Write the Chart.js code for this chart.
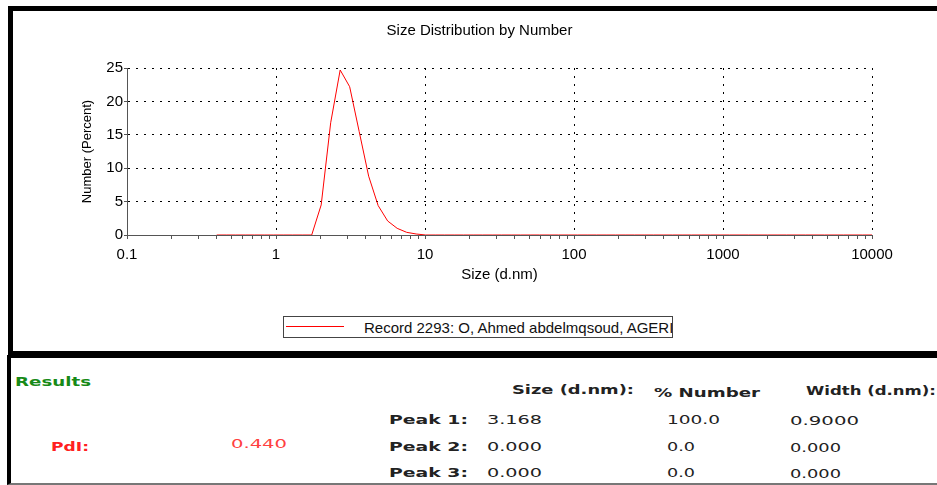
<!DOCTYPE html>
<html>
<head>
<meta charset="utf-8">
<script src="https://cdn.jsdelivr.net/npm/chart.js@4.4.1/dist/chart.umd.min.js"></script>
<style>
html, body { margin: 0; padding: 0; background: #fff; }
#page { position: relative; width: 937px; height: 485px; overflow: hidden; font-family: "Liberation Sans", Arial, sans-serif; }
#topBox { position: absolute; left: 8px; top: 6px; width: 929px; height: 350px; border-top: 5px solid #000; border-left: 5px solid #000; box-sizing: border-box; }
#sepBar { position: absolute; left: 8px; top: 351px; width: 929px; height: 7px; background: #000; }
#lowBox { position: absolute; left: 7px; top: 355px; width: 930px; height: 130px; border-left: 4px solid #000; border-bottom: 2px solid #777; box-sizing: border-box; }
#chartWrap { position: absolute; left: 22px; top: 0; width: 915px; height: 300px; }
#legendBox { position: absolute; left: 283px; top: 316px; width: 390px; height: 22px; border: 1px solid #444; box-sizing: border-box; background: #fff; overflow: hidden; }
#legendLine { position: absolute; left: 2px; top: 9px; width: 58px; height: 1px; background: #ff0000; }
#legendText { position: absolute; left: 80px; top: 2px; font-size: 15px; line-height: 17px; color: #111; white-space: nowrap; }
.fit { position: absolute; white-space: nowrap; font-family: "DejaVu Sans", sans-serif; font-size: 13px; line-height: 16px; transform-origin: left center; }
.b { font-weight: bold; }
</style>
</head>
<body>
<div id="page">
  <div id="topBox"></div>
  <div id="chartWrap"><canvas id="sizeChart" width="915" height="300"></canvas></div>
  <div id="legendBox"><div id="legendLine"></div><div id="legendText"></div></div>
  <div id="sepBar"></div>
  <div id="lowBox"></div>
  <div id="results"></div>
</div>
<script>
// size bins (d.nm)
var sizes = [0.4, 0.4632, 0.5365, 0.6213, 0.7195, 0.8332, 0.9649, 1.117, 1.294, 1.499,
  1.736, 2.010, 2.328, 2.696, 3.122, 3.615, 4.187, 4.849, 5.615, 6.503,
  7.531, 8.721, 10.10, 11.70, 13.54, 15.69, 18.17, 21.04, 24.36, 28.21,
  32.67, 37.84, 43.82, 50.75, 58.77, 68.06, 78.82, 91.28, 105.7, 122.4,
  141.8, 164.2, 190.1, 220.2, 255.0, 295.3, 342.0, 396.1, 458.7, 531.2,
  615.1, 712.4, 825.0, 955.4, 1106, 1281, 1484, 1718, 1990, 2305,
  2669, 3091, 3580, 4145, 4801, 5560, 6439, 7456, 8635, 10000];
// number distribution (percent)
var numberPct = [0, 0, 0, 0, 0, 0, 0, 0, 0, 0,
  0, 4.5, 16.8, 24.7, 22.2, 15.5, 8.8, 4.4, 2.1, 1.0,
  0.4, 0.15, 0, 0, 0, 0, 0, 0, 0, 0,
  0, 0, 0, 0, 0, 0, 0, 0, 0, 0,
  0, 0, 0, 0, 0, 0, 0, 0, 0, 0,
  0, 0, 0, 0, 0, 0, 0, 0, 0, 0,
  0, 0, 0, 0, 0, 0, 0, 0, 0, 0];
var seriesLabel = "Record 2293: O, Ahmed abdelmqsoud, AGERI";
var xMajorTicks = [0.1, 1, 10, 100, 1000, 10000];
var xTickLabels = ["0.1", "1", "10", "100", "1000", "10000"];
var yTickLabels = ["0", "5", "10", "15", "20", "25"];

// results table
var peakNames = ["Peak 1:", "Peak 2:", "Peak 3:"];
var peakSizes = ["3.168", "0.000", "0.000"];
var peakPercents = ["100.0", "0.0", "0.0"];
var peakWidths = ["0.9000", "0.000", "0.000"];
var pdiValue = "0.440";

var FONT = "'Liberation Sans', Arial, sans-serif";

function majorIndex(v) {
    for (var i = 0; i < xMajorTicks.length; i++) {
        if (Math.abs(Math.log10(v) - Math.log10(xMajorTicks[i])) < 1e-6) return i;
    }
    return -1;
}

var points = [];
for (var i = 0; i < sizes.length; i++) {
    points.push({ x: sizes[i], y: numberPct[i] });
}

var chart = new Chart(document.getElementById("sizeChart"), {
    type: "line",
    data: {
        datasets: [{
            label: seriesLabel,
            data: points,
            borderColor: "#ff0000",
            borderWidth: 1,
            pointRadius: 0,
            tension: 0,
            fill: false
        }]
    },
    options: {
        responsive: false,
        animation: false,
        devicePixelRatio: 1,
        layout: { padding: 0 },
        plugins: {
            legend: { display: false },
            tooltip: { enabled: false },
            title: {
                display: true,
                text: "Size Distribution by Number",
                color: "#000",
                font: { family: FONT, size: 15, weight: "normal" },
                padding: { top: 22, bottom: 28 }
            }
        },
        scales: {
            x: {
                type: "logarithmic",
                min: 0.1,
                max: 10000,
                afterBuildTicks: function (scale) {
                    var t = [];
                    for (var d = 0; d < xMajorTicks.length - 1; d++) {
                        for (var m = 1; m <= 9; m++) t.push({ value: xMajorTicks[d] * m });
                    }
                    t.push({ value: xMajorTicks[xMajorTicks.length - 1] });
                    scale.ticks = t;
                },
                afterFit: function (scale) {
                    scale.height = 65;
                    scale.paddingRight = 65;
                },
                ticks: {
                    autoSkip: false,
                    maxRotation: 0,
                    minRotation: 0,
                    padding: 7,
                    color: "#000",
                    font: { family: FONT, size: 15 },
                    callback: function (v) {
                        var k = majorIndex(v);
                        return k >= 0 ? xTickLabels[k] : "";
                    }
                },
                grid: {
                    drawTicks: true,
                    tickLength: 4,
                    tickColor: "#555",
                    lineWidth: 1,
                    color: function (ctx) {
                        if (!ctx.tick) return "rgba(0,0,0,0)";
                        var k = majorIndex(ctx.tick.value);
                        return k > 0 ? "#000" : "rgba(0,0,0,0)";
                    }
                },
                border: { display: true, color: "#555", width: 1, dash: [2, 6] },
                title: {
                    display: true,
                    text: "Size (d.nm)",
                    color: "#000",
                    font: { family: FONT, size: 15 },
                    padding: { top: 0, bottom: 16 }
                }
            },
            y: {
                min: 0,
                max: 25,
                afterFit: function (scale) {
                    scale.width = 105;
                },
                ticks: {
                    stepSize: 2.5,
                    padding: 1,
                    color: "#000",
                    font: { family: FONT, size: 15 },
                    callback: function (v) {
                        var k = Math.round(v / 5);
                        return (Math.abs(v - k * 5) < 1e-6) ? yTickLabels[k] : "";
                    }
                },
                grid: {
                    drawTicks: true,
                    tickLength: 3,
                    tickColor: "#555",
                    lineWidth: 1,
                    color: function (ctx) {
                        if (!ctx.tick) return "rgba(0,0,0,0)";
                        var v = ctx.tick.value;
                        return (v > 0 && Math.abs(v / 5 - Math.round(v / 5)) < 1e-6) ? "#000" : "rgba(0,0,0,0)";
                    }
                },
                border: { display: true, color: "#555", width: 1, dash: [2, 6] },
                title: {
                    display: true,
                    text: "Number (Percent)",
                    color: "#000",
                    font: { family: FONT, size: 13 },
                    padding: { top: 57.2, bottom: 0 }
                }
            }
        }
    }
});

// legend box below the chart
document.getElementById("legendText").textContent = chart.data.datasets[0].label;

// results block
var res = document.getElementById("results");
function addText(txt, x, cy, w, color, bold) {
    var el = document.createElement("div");
    el.className = "fit" + (bold ? " b" : "");
    el.textContent = txt;
    el.style.left = x + "px";
    el.style.top = (cy - 8) + "px";
    el.style.color = color;
    res.appendChild(el);
    var nat = el.getBoundingClientRect().width;
    el.style.transform = "scaleX(" + (w / nat) + ")";
}
addText("Results", 15, 382, 76, "#178a17", true);
addText("Size (d.nm):", 512, 390, 122, "#222", true);
addText("% Number", 654, 393, 106, "#222", true);
addText("Width (d.nm):", 806, 391, 130, "#222", true);
addText("PdI:", 51, 447, 38, "#ff2020", true);
addText(pdiValue, 231, 444, 56, "#ff4040", false);
var rowY = [420, 447, 473];
for (var r = 0; r < peakNames.length; r++) {
    addText(peakNames[r], 389, rowY[r], 79, "#222", true);
    addText(peakSizes[r], 487, rowY[r], 55, "#222", false);
    addText(peakPercents[r], 667, rowY[r], peakPercents[r].length === 5 ? 53 : 28, "#222", false);
    addText(peakWidths[r], 790, rowY[r] + 1, peakWidths[r].length === 6 ? 69 : 51, "#222", false);
}
</script>
</body>
</html>
